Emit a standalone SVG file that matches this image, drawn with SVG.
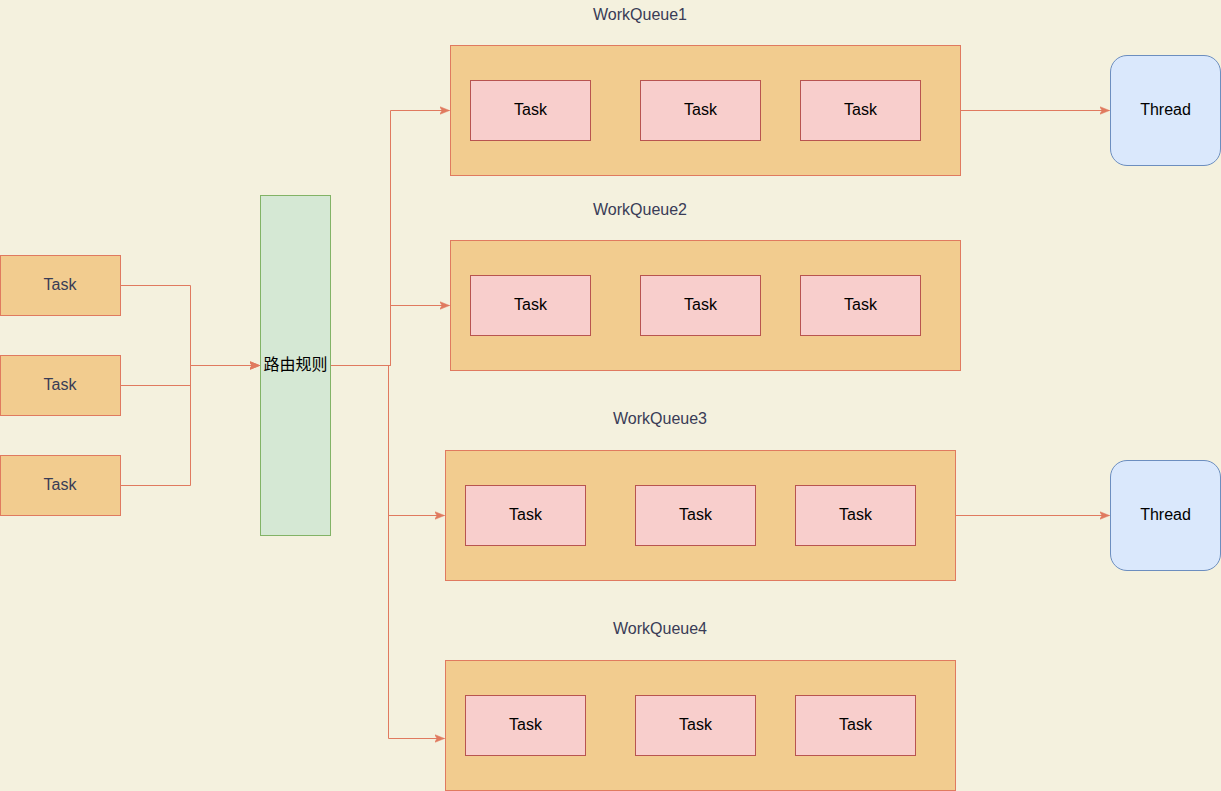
<svg xmlns="http://www.w3.org/2000/svg" width="1221" height="791" viewBox="0 0 1221 791">
<style>
.bg{fill:#F4F1DE}
.t{fill:#F2CC8F;stroke:#E07A5F;stroke-width:1}
.it{fill:#f8cecc;stroke:#b85450;stroke-width:1}
.r{fill:#d5e8d4;stroke:#82b366;stroke-width:1}
.th{fill:#dae8fc;stroke:#6c8ebf;stroke-width:1}
.c{fill:none;stroke:#E07A5F;stroke-width:1}
text{font-family:"Liberation Sans",Arial,"Noto Sans CJK SC",sans-serif;font-size:16px;text-anchor:middle;dominant-baseline:central}
.d{fill:#393C56}
.k{fill:#000}
</style>
<defs>
<marker id="a" viewBox="0 0 10 10" refX="10" refY="5" markerWidth="10" markerHeight="10" markerUnits="userSpaceOnUse" orient="auto">
<path d="M0,1 L10,5 L0,9 L2.5,5 Z" fill="#E07A5F" stroke="#E07A5F" stroke-width="0.5"/>
</marker>
</defs>
<rect class="bg" x="0" y="0" width="1221" height="791"/>
<g id="connectors">
<path class="c" d="M120.5,285.5 H190.5 V365.5 H259.5" marker-end="url(#a)"/>
<path class="c" d="M120.5,385.5 H190.5 V365.5 H259.5" marker-end="url(#a)"/>
<path class="c" d="M120.5,485.5 H190.5 V365.5 H259.5" marker-end="url(#a)"/>
<path class="c" d="M330.5,365.5 H390.5 V110.5 H449.5" marker-end="url(#a)"/>
<path class="c" d="M330.5,365.5 H390.5 V305.5 H449.5" marker-end="url(#a)"/>
<path class="c" d="M330.5,365.5 H388.5 V515.5 H444.5" marker-end="url(#a)"/>
<path class="c" d="M330.5,365.5 H388.5 V738.5 H444.5" marker-end="url(#a)"/>
<path class="c" d="M960.5,110.5 H1109.5" marker-end="url(#a)"/>
<path class="c" d="M955.5,515.5 H1109.5" marker-end="url(#a)"/>
</g>
<g id="task-in-1"><rect class="t" x="0.5" y="255.5" width="120" height="60"/><text class="d" x="60" y="284">Task</text></g>
<g id="task-in-2"><rect class="t" x="0.5" y="355.5" width="120" height="60"/><text class="d" x="60" y="384">Task</text></g>
<g id="task-in-3"><rect class="t" x="0.5" y="455.5" width="120" height="60"/><text class="d" x="60" y="484">Task</text></g>
<g id="router"><rect class="r" x="260.5" y="195.5" width="70" height="340"/><text class="k" x="295.5" y="364.5">路由规则</text></g>
<g id="wq1">
<text class="d" x="640" y="14.5">WorkQueue1</text>
<rect class="t" x="450.5" y="45.5" width="510" height="130"/>
<rect class="it" x="470.5" y="80.5" width="120" height="60"/><text class="k" x="530.5" y="109">Task</text>
<rect class="it" x="640.5" y="80.5" width="120" height="60"/><text class="k" x="700.5" y="109">Task</text>
<rect class="it" x="800.5" y="80.5" width="120" height="60"/><text class="k" x="860.5" y="109">Task</text>
</g>
<g id="wq2">
<text class="d" x="640" y="209.5">WorkQueue2</text>
<rect class="t" x="450.5" y="240.5" width="510" height="130"/>
<rect class="it" x="470.5" y="275.5" width="120" height="60"/><text class="k" x="530.5" y="304">Task</text>
<rect class="it" x="640.5" y="275.5" width="120" height="60"/><text class="k" x="700.5" y="304">Task</text>
<rect class="it" x="800.5" y="275.5" width="120" height="60"/><text class="k" x="860.5" y="304">Task</text>
</g>
<g id="wq3">
<text class="d" x="660" y="418.5">WorkQueue3</text>
<rect class="t" x="445.5" y="450.5" width="510" height="130"/>
<rect class="it" x="465.5" y="485.5" width="120" height="60"/><text class="k" x="525.5" y="514">Task</text>
<rect class="it" x="635.5" y="485.5" width="120" height="60"/><text class="k" x="695.5" y="514">Task</text>
<rect class="it" x="795.5" y="485.5" width="120" height="60"/><text class="k" x="855.5" y="514">Task</text>
</g>
<g id="wq4">
<text class="d" x="660" y="628.5">WorkQueue4</text>
<rect class="t" x="445.5" y="660.5" width="510" height="130"/>
<rect class="it" x="465.5" y="695.5" width="120" height="60"/><text class="k" x="525.5" y="724">Task</text>
<rect class="it" x="635.5" y="695.5" width="120" height="60"/><text class="k" x="695.5" y="724">Task</text>
<rect class="it" x="795.5" y="695.5" width="120" height="60"/><text class="k" x="855.5" y="724">Task</text>
</g>
<g id="thread1"><rect class="th" x="1110.5" y="55.5" width="110" height="110" rx="16.5"/><text class="k" x="1165.5" y="109">Thread</text></g>
<g id="thread2"><rect class="th" x="1110.5" y="460.5" width="110" height="110" rx="16.5"/><text class="k" x="1165.5" y="514">Thread</text></g>
</svg>
